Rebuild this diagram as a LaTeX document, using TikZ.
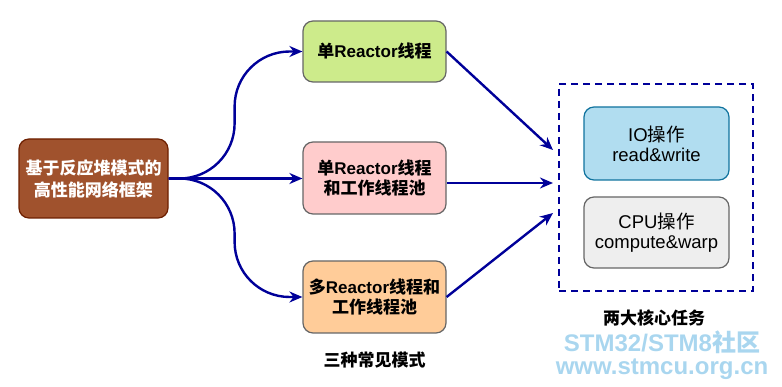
\documentclass[tikz,border=0pt]{standalone}
\usepackage{fontspec}
\setmainfont{Liberation Sans}
\newfontfamily\cjk{Noto Sans CJK SC}
\newcommand\zhtxt[1]{{\cjk #1}}
\usetikzlibrary{arrows.meta,calc}
\definecolor{arrowblue}{HTML}{000099}
\definecolor{brownfill}{HTML}{A0522D}
\definecolor{brownline}{HTML}{6D1F00}
\definecolor{greenfill}{HTML}{CDEB8B}
\definecolor{pinkfill}{HTML}{FFCCCC}
\definecolor{orangefill}{HTML}{FFCC99}
\definecolor{bluefill}{HTML}{B1DDF0}
\definecolor{blueline}{HTML}{10739E}
\definecolor{grayfill}{HTML}{EEEEEE}
\definecolor{grayline}{HTML}{666666}
\definecolor{wmblue}{HTML}{A9D6EF}
\tikzset{
  box/.style={draw=grayline, line width=1.2pt, rounded corners=10pt, inner sep=0pt,
    align=center, minimum width=143pt, font=\fontsize{17}{20}\selectfont\bfseries},
  plainbox/.style={box, font=\fontsize{18.5}{20}\selectfont, minimum width=145pt},
  conn/.style={draw=arrowblue, line width=2.4pt, -{Stealth[length=13pt,width=11pt]}},
  curvedconn/.style={conn, rounded corners=55pt},
  caption/.style={font=\fontsize{17}{20}\selectfont\bfseries, inner sep=0pt},
  watermark/.style={text=wmblue, inner sep=0pt, font=\fontsize{24}{26}\selectfont\bfseries}
}
\begin{document}
\begin{tikzpicture}[x=1pt,y=-1pt]
\useasboundingbox (0,0) rectangle (782,387);
% left root node
\node[box, fill=brownfill, draw=brownline, text=white, minimum width=149pt, minimum height=79pt,
  font=\fontsize{17}{22}\selectfont\bfseries] (root) at (93.5,178.5)
  {\zhtxt{基于反应堆模式的}\\\zhtxt{高性能网络框架}};
% three modes
\node[box, fill=greenfill, minimum height=61pt] (n1) at (374.5,51.5)
  {\zhtxt{单}Reactor\zhtxt{线程}};
\node[box, fill=pinkfill, minimum height=72pt] (n2) at (374.5,178)
  {\zhtxt{单}Reactor\zhtxt{线程}\\\zhtxt{和工作线程池}};
\node[box, fill=orangefill, minimum height=72pt] (n3) at (374.5,297)
  {\zhtxt{多}Reactor\zhtxt{线程和}\\\zhtxt{工作线程池}};
\node[caption] (cap1) at (374.5,360) {\zhtxt{三种常见模式}};
% dashed container
\node[draw=arrowblue, line width=2.2pt, dash pattern=on 7pt off 5pt, minimum width=194pt,
  minimum height=207pt, inner sep=0pt] (core) at (656,187.5) {};
\node[plainbox, fill=bluefill, draw=blueline, minimum height=73pt] (io) at (656.5,143.5)
  {IO\zhtxt{操作}\\read\&write};
\node[plainbox, fill=grayfill, minimum height=71pt] (cpu) at (656.5,232.5)
  {CPU\zhtxt{操作}\\compute\&warp};
\node[caption] (cap2) at (654,318) {\zhtxt{两大核心任务}};
% connector end points at the container
\coordinate (t1) at (553,150);
\coordinate (t2) at (553,183);
\coordinate (t3) at (553,213);
% connectors
\draw[curvedconn] (root.east) -- ++(66,0) |- (n1.west);
\draw[conn] (root.east) -- (n2.west |- root.east);
\draw[curvedconn] (root.east) -- ++(66,0) |- (n3.west);
\draw[conn] (n1.east) -- (t1);
\draw[conn] (n2.east |- t2) -- (t2);
\draw[conn] (n3.east) -- (t3);
% watermark
\node[watermark] (wm1) at (662,342) {STM32/STM8\zhtxt{社区}};
\node[watermark] (wm2) at (662,369) {www.stmcu.org.cn};
\end{tikzpicture}
\end{document}
